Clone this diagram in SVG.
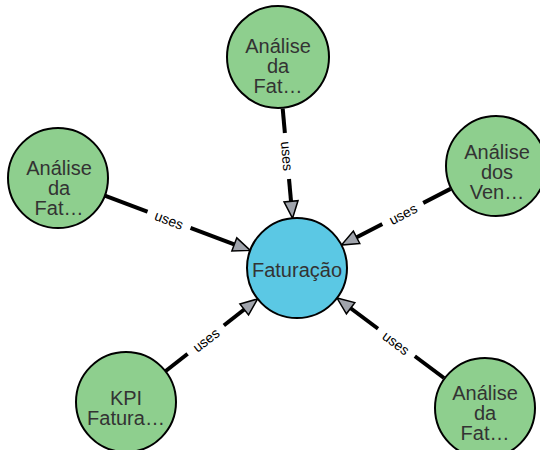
<svg xmlns="http://www.w3.org/2000/svg" width="540" height="450" viewBox="0 0 540 450">
<style>
.node circle{stroke:#000;stroke-width:2}
.leaf circle{fill:#8ecf8e}
.hub circle{fill:#5bc8e4}
.node text{font-family:"Liberation Sans",Arial,sans-serif;font-size:20px;fill:#333;text-anchor:middle}
.edge line{stroke:#000;stroke-width:4;marker-end:url(#arr)}
.edge rect{fill:#fff}
.edge text{font-family:"Liberation Sans",Arial,sans-serif;font-size:14px;fill:#000;text-anchor:middle;dominant-baseline:central}
</style>
<defs>
<marker id="arr" markerUnits="userSpaceOnUse" markerWidth="20" markerHeight="16" refX="2" refY="7" orient="auto" overflow="visible">
<path d="M0,0 L17,7 L0,14 Z" fill="#a0a4ac" stroke="#000" stroke-width="1.5" stroke-linejoin="miter"/>
</marker>
</defs>
<g id="connectors">
<g class="edge" id="e-top">
<line x1="282.7" y1="108.8" x2="291.2" y2="203.3"/>
<rect x="-23" y="-8" width="46" height="16" transform="translate(287,156) rotate(84.85)"/>
<text transform="translate(287,156) rotate(84.85)">uses</text>
</g>
<g class="edge" id="e-left">
<line x1="104.8" y1="195.6" x2="236.2" y2="245.1"/>
<rect x="-23" y="-8" width="46" height="16" transform="translate(169,220) rotate(20.6)"/>
<text transform="translate(169,220) rotate(20.6)">uses</text>
</g>
<g class="edge" id="e-right">
<line x1="450.5" y1="188.9" x2="354.8" y2="238.2"/>
<rect x="-23" y="-8" width="46" height="16" transform="translate(403,214) rotate(-27.3)"/>
<text transform="translate(403,214) rotate(-27.3)">uses</text>
</g>
<g class="edge" id="e-bl">
<line x1="165.4" y1="371.2" x2="245.8" y2="308.2"/>
<rect x="-23" y="-8" width="46" height="16" transform="translate(206,340) rotate(-38.1)"/>
<text transform="translate(206,340) rotate(-38.1)">uses</text>
</g>
<g class="edge" id="e-br">
<line x1="444" y1="378" x2="349" y2="307"/>
<rect x="-23" y="-8" width="46" height="16" transform="translate(396,343) rotate(36.8)"/>
<text transform="translate(396,343) rotate(36.8)">uses</text>
</g>
</g>
<g class="node hub" id="n-faturacao">
<circle cx="297" cy="268" r="50"/>
<text x="297" y="277">Faturação</text>
</g>
<g class="node leaf" id="n-top">
<circle cx="278" cy="57" r="51"/>
<text x="278" y="53"><tspan x="278">Análise</tspan><tspan x="278" dy="20">da</tspan><tspan x="278" dy="20">Fat…</tspan></text>
</g>
<g class="node leaf" id="n-left">
<circle cx="58" cy="178" r="50"/>
<text x="59" y="175"><tspan x="59">Análise</tspan><tspan x="59" dy="20">da</tspan><tspan x="59" dy="20">Fat…</tspan></text>
</g>
<g class="node leaf" id="n-right">
<circle cx="496" cy="166" r="50"/>
<text x="497" y="159"><tspan x="497">Análise</tspan><tspan x="497" dy="20">dos</tspan><tspan x="497" dy="20">Ven…</tspan></text>
</g>
<g class="node leaf" id="n-kpi">
<circle cx="126" cy="402" r="50"/>
<text x="126" y="405"><tspan x="126">KPI</tspan><tspan x="126" dy="20">Fatura…</tspan></text>
</g>
<g class="node leaf" id="n-br">
<circle cx="485" cy="408" r="50"/>
<text x="485" y="400"><tspan x="485">Análise</tspan><tspan x="485" dy="20">da</tspan><tspan x="485" dy="20">Fat…</tspan></text>
</g>
</svg>
